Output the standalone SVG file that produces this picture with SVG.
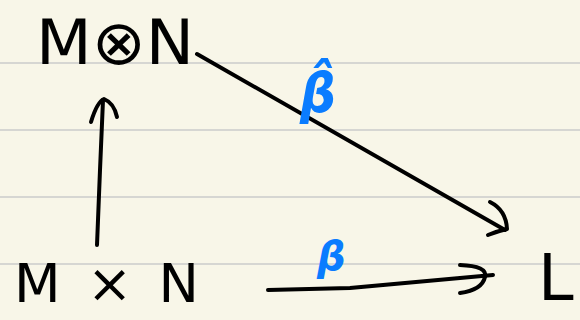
<svg xmlns="http://www.w3.org/2000/svg" width="580" height="320" viewBox="0 0 580 320">
<defs>
<style>
.rule{stroke:#d6d6d2;stroke-width:2}
.ink{fill:none;stroke:#000;stroke-width:4;stroke-linecap:round;stroke-linejoin:round}
.lbl{font-family:"DejaVu Sans",sans-serif;fill:#000}
.blue{font-family:"DejaVu Sans",sans-serif;fill:#0a7cff;font-style:italic;font-weight:bold}
</style>
</defs>
<rect x="0" y="0" width="580" height="320" fill="#f8f6e8"/>
<g id="rules">
<line class="rule" x1="0" y1="63" x2="580" y2="63"/>
<line class="rule" x1="0" y1="130" x2="580" y2="130"/>
<line class="rule" x1="0" y1="197" x2="580" y2="197"/>
<line class="rule" x1="0" y1="264" x2="580" y2="264"/>
</g>
<g id="connectors">
<path class="ink" d="M97 245 L100 170 L103 100"/>
<path class="ink" d="M91 122 Q97 102 104 99 Q114 103 117 117"/>
<path class="ink" d="M197 54 L505 230"/>
<path class="ink" d="M490 202 Q506 210 507 229 Q498 231 488 235"/>
<path class="ink" d="M268 290 L350 288 L493 275"/>
<path class="ink" d="M460 265 Q488 266 485 277 Q482 290 460 293"/>
</g>
<g id="node-tensor">
<text class="lbl" x="36" y="64" font-size="62" textLength="158" lengthAdjust="spacingAndGlyphs">M⊗N</text>
</g>
<g id="node-product">
<text class="lbl" x="14" y="302" font-size="54" textLength="185" lengthAdjust="spacing">M × N</text>
</g>
<g id="node-L">
<text class="lbl" x="538" y="300" font-size="64">L</text>
</g>
<g id="label-betahat">
<text class="blue" x="300" y="112" font-size="56" textLength="36" lengthAdjust="spacingAndGlyphs">β̂</text>
</g>
<g id="label-beta">
<text class="blue" x="317" y="270" font-size="40">β</text>
</g>
</svg>
